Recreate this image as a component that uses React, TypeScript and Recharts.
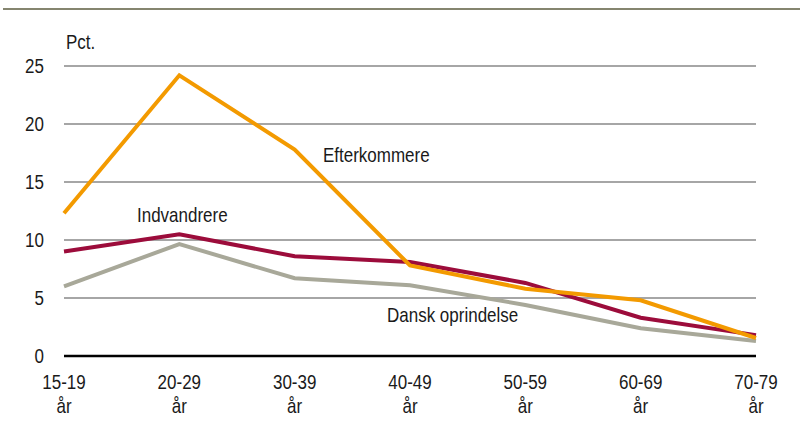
import React from "react";
import { LineChart, Line, XAxis, YAxis, CartesianGrid } from "recharts";

const ageGroups = ["15-19", "20-29", "30-39", "40-49", "50-59", "60-69", "70-79"];
const efterkommere = [12.3, 24.2, 17.8, 7.8, 5.8, 4.8, 1.55];
const indvandrere = [9.0, 10.5, 8.6, 8.1, 6.3, 3.3, 1.8];
const danskOprindelse = [6.0, 9.65, 6.7, 6.1, 4.4, 2.4, 1.3];
const yTicks = [0, 5, 10, 15, 20, 25];

const data = ageGroups.map((age, i) => ({
  age,
  eft: efterkommere[i],
  ind: indvandrere[i],
  dan: danskOprindelse[i],
}));

const FONT = "'Liberation Sans', Arial, sans-serif";
const TEXT = "#1a1a1a";
const STRETCH = 1.18;

function Txt({ x, y, children, anchor = "start" }: any) {
  return (
    <text
      transform={`translate(${x},${y}) scale(1,${STRETCH})`}
      textAnchor={anchor}
      fontFamily={FONT}
      fontSize={17}
      fill={TEXT}
    >
      {children}
    </text>
  );
}

function YTick({ y, payload }: any) {
  return <Txt x={44} y={y + 7} anchor="end">{payload.value}</Txt>;
}

function XTick({ x, payload }: any) {
  return (
    <g>
      <Txt x={x} y={389} anchor="middle">{payload.value}</Txt>
      <Txt x={x} y={413} anchor="middle">år</Txt>
    </g>
  );
}

export default function App() {
  return (
    <div style={{ position: "absolute", left: 0, top: 0, width: 805, height: 424, background: "#fff" }}>
      <div style={{ position: "absolute", left: 3, top: 8, width: 797, height: 1.5, background: "#85856f" }} />
      <LineChart width={805} height={424} data={data} margin={{ top: 66, right: 49, bottom: 0, left: 0 }}>
        <CartesianGrid vertical={false} stroke="#a6a6a6" strokeWidth={2} />
        <XAxis
          dataKey="age"
          height={68}
          tickLine={false}
          tickSize={0}
          axisLine={{ stroke: "#000", strokeWidth: 2.5 }}
          tick={<XTick />}
          interval={0}
        />
        <YAxis
          width={64}
          domain={[0, 25]}
          ticks={yTicks}
          axisLine={false}
          tickLine={false}
          tickSize={0}
          tick={<YTick />}
        />
        <Line dataKey="dan" stroke="#a8a899" strokeWidth={4} dot={false} isAnimationActive={false} strokeLinejoin="miter" />
        <Line dataKey="ind" stroke="#9c0c3b" strokeWidth={4} dot={false} isAnimationActive={false} strokeLinejoin="miter" />
        <Line dataKey="eft" stroke="#f39a00" strokeWidth={4} dot={false} isAnimationActive={false} strokeLinejoin="miter" />
      </LineChart>
      <svg width={805} height={424} style={{ position: "absolute", left: 0, top: 0, pointerEvents: "none" }}>
        <Txt x={66} y={49}>Pct.</Txt>
        <Txt x={323} y={162}>Efterkommere</Txt>
        <Txt x={137} y={222}>Indvandrere</Txt>
        <Txt x={387} y={322}>Dansk oprindelse</Txt>
      </svg>
    </div>
  );
}
